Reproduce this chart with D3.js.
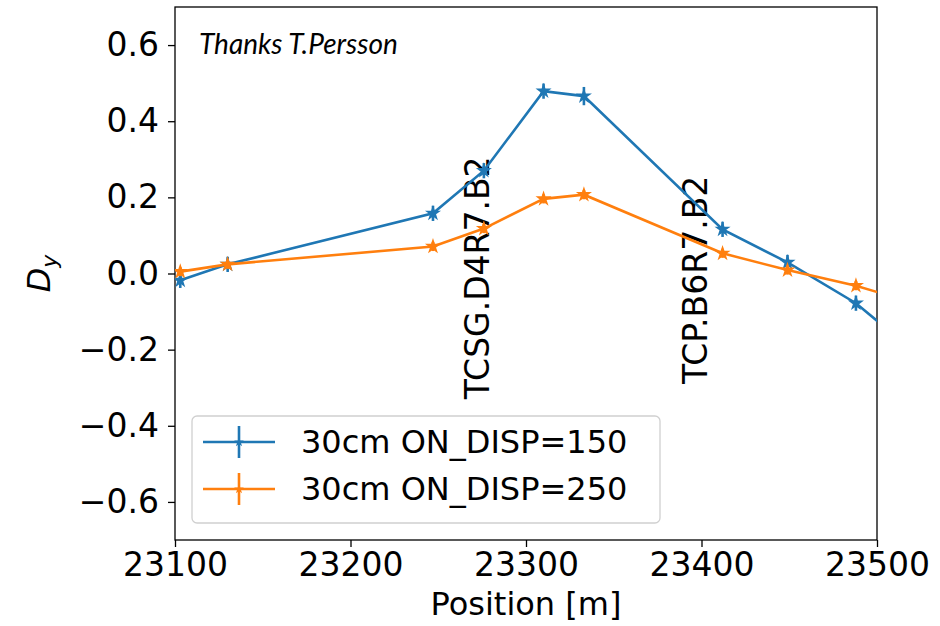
<!DOCTYPE html>
<html>
<head>
<meta charset="utf-8">
<script src="https://cdn.jsdelivr.net/npm/d3@7"></script>
<style>
  body { margin: 0; background: #fff; }
  svg { display: block; }
</style>
</head>
<body>
<div id="chart"></div>
<script>
// positions along the ring [m]
const positions150 = [23103, 23130, 23247, 23276, 23310, 23333, 23412, 23449, 23488, 23530];
const values150    = [-0.018, 0.024, 0.158, 0.27, 0.479, 0.466, 0.116, 0.029, -0.078, -0.24];
const errors150    = [0.02, 0.02, 0.02, 0.02, 0.02, 0.024, 0.02, 0.02, 0.02, 0.02];

const positions250 = [23103, 23130, 23247, 23276, 23310, 23333, 23412, 23449, 23488, 23530];
const values250    = [0.005, 0.024, 0.071, 0.118, 0.196, 0.207, 0.053, 0.009, -0.032, -0.09];
const errors250    = [0.012, 0.012, 0.012, 0.012, 0.012, 0.012, 0.012, 0.012, 0.012, 0.012];

const seriesNames  = ["30cm ON_DISP=150", "30cm ON_DISP=250"];
const seriesColors = ["#1f77b4", "#ff7f0e"];

// collimator names, drawn rotated
const collimatorNames = ["TCSG.D4R7.B2", "TCP.B6R7.B2"];
const collimatorPos   = [23265, 23389];
const collimatorY     = [-0.33, -0.29];

const xTicks = [23100, 23200, 23300, 23400, 23500];
const yTicks = [-0.6, -0.4, -0.2, 0.0, 0.2, 0.4, 0.6];

const W = 940, H = 626;
const margin = {top: 7, right: 63, bottom: 86, left: 175};
const width = W - margin.left - margin.right;
const height = H - margin.top - margin.bottom;
const font = "'DejaVu Sans', sans-serif";

const svg = d3.select("#chart").append("svg")
    .attr("width", W)
    .attr("height", H);

const g = svg.append("g")
    .attr("transform", `translate(${margin.left},${margin.top})`);

const x = d3.scaleLinear().domain([23100, 23500]).range([0, width]);
const y = d3.scaleLinear().domain([-0.7, 0.7]).range([height, 0]);

g.append("clipPath").attr("id", "clip")
  .append("rect").attr("width", width).attr("height", height);

// axes
const xAxis = g.append("g")
    .attr("transform", `translate(0,${height})`)
    .call(d3.axisBottom(x).tickValues(xTicks).tickFormat(d3.format("d")).tickSize(7).tickPadding(6));
const yAxis = g.append("g")
    .call(d3.axisLeft(y).tickValues(yTicks).tickFormat(d3.format(".1f")).tickSize(7).tickPadding(9));

[xAxis, yAxis].forEach(a => {
    a.select(".domain").remove();
    a.selectAll("line").attr("stroke", "#000").attr("stroke-width", 1.3);
    a.selectAll("text").attr("font-family", font).attr("font-size", "33px").attr("fill", "#000");
});

// frame
g.append("rect")
    .attr("width", width).attr("height", height)
    .attr("fill", "none").attr("stroke", "#000").attr("stroke-width", 1.3);

// rotated collimator labels
collimatorNames.forEach((name, i) => {
    const px = x(collimatorPos[i]), py = y(collimatorY[i]);
    g.append("text")
        .attr("transform", `translate(${px},${py}) rotate(-90)`)
        .attr("dominant-baseline", "hanging")
        .attr("font-family", font)
        .attr("font-size", "33px")
        .attr("fill", "#000")
        .text(name);
});

// series
const star = d3.symbol().type(d3.symbolStar);
const series = [
    {pos: positions150, val: values150, err: errors150},
    {pos: positions250, val: values250, err: errors250}
];

const plot = g.append("g").attr("clip-path", "url(#clip)");
series.forEach((s, k) => {
    const pts = s.pos.map((p, i) => ({x: p, y: s.val[i], e: s.err[i]}));
    const line = d3.line().x(d => x(d.x)).y(d => y(d.y));
    plot.append("path")
        .datum(pts)
        .attr("d", line)
        .attr("fill", "none")
        .attr("stroke", seriesColors[k])
        .attr("stroke-width", 2.6);

    plot.selectAll(".err" + k).data(pts).enter()
        .append("line")
        .attr("x1", d => x(d.x)).attr("x2", d => x(d.x))
        .attr("y1", d => y(d.y - d.e)).attr("y2", d => y(d.y + d.e))
        .attr("stroke", seriesColors[k])
        .attr("stroke-width", 2.6);

    plot.selectAll(".star" + k).data(pts).enter()
        .append("path")
        .attr("transform", d => `translate(${x(d.x)},${y(d.y)})`)
        .attr("d", star.size(80)())
        .attr("fill", seriesColors[k]);
});

// legend
const lg = g.append("g").attr("transform", `translate(${17},${409})`);
lg.append("rect")
    .attr("width", 468).attr("height", 107)
    .attr("rx", 5)
    .attr("fill", "#fff").attr("fill-opacity", 0.8)
    .attr("stroke", "#d0d0d0").attr("stroke-width", 1.3);

seriesNames.forEach((name, k) => {
    const cy = 26 + k * 47;
    lg.append("line")
        .attr("x1", 11).attr("x2", 83).attr("y1", cy).attr("y2", cy)
        .attr("stroke", seriesColors[k]).attr("stroke-width", 2.6);
    lg.append("line")
        .attr("x1", 47).attr("x2", 47).attr("y1", cy - 16).attr("y2", cy + 16)
        .attr("stroke", seriesColors[k]).attr("stroke-width", 2.6);
    lg.append("path")
        .attr("transform", `translate(47,${cy})`)
        .attr("d", star.size(30)())
        .attr("fill", seriesColors[k]);
    lg.append("text")
        .attr("x", 109).attr("y", cy + 11)
        .attr("font-family", font).attr("font-size", "32px")
        .attr("fill", "#000")
        .text(name);
});

// annotation
g.append("text")
    .attr("x", 24).attr("y", 47)
    .attr("font-family", "Lato, sans-serif")
    .attr("font-style", "italic")
    .attr("font-size", "28px")
    .attr("fill", "#000")
    .text("Thanks T.Persson");

// axis labels
g.append("text")
    .attr("x", width / 2).attr("y", height + 75)
    .attr("text-anchor", "middle")
    .attr("font-family", font).attr("font-size", "32px")
    .attr("fill", "#000")
    .text("Position [m]");

const yl = g.append("text")
    .attr("transform", `translate(${-125},${y(0)}) rotate(-90)`)
    .attr("text-anchor", "middle")
    .attr("font-family", font).attr("font-size", "32px")
    .attr("font-style", "italic")
    .attr("fill", "#000");
yl.append("tspan").text("D");
yl.append("tspan").attr("font-size", "22px").attr("dy", 7).text("y");
</script>
</body>
</html>
